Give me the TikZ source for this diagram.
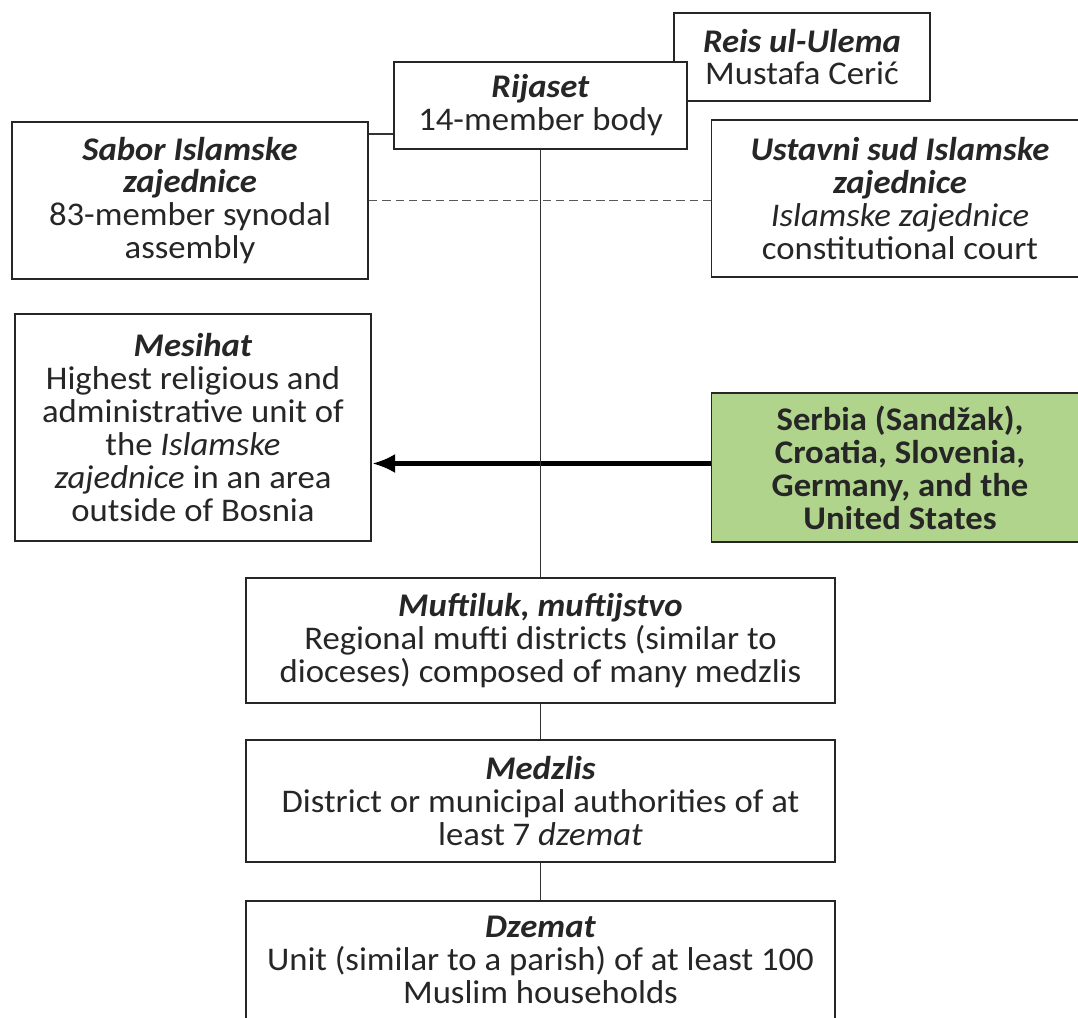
\documentclass[tikz,border=0pt]{standalone}
\usepackage{fontspec}
\setmainfont{Carlito}[FakeStretch=1.05]
\usepackage{tikz}
\usetikzlibrary{arrows.meta}

\definecolor{boxgreen}{HTML}{B0D48C}
\newcommand{\boxfont}{\fontsize{23.5}{23.4}\selectfont}
\newcommand{\boxtitle}[1]{\textbf{\textit{#1}}}

\begin{document}
\begin{tikzpicture}[x=0.025cm, y=-0.025cm,
    box/.style={draw=black!85, line width=1.3pt, fill=white, text=black!85,
      align=center, inner sep=0pt, font=\boxfont},
    greenbox/.style={box, fill=boxgreen, font=\boxfont\bfseries},
    link/.style={draw=black!80, line width=1.1pt},
    dashline/.style={draw=black!65, line width=1.3pt, dash pattern=on 6pt off 3.5pt},
    bigarrow/.style={line width=3.2pt, -{Latex[length=0.58cm,width=0.48cm]}}]
  \clip (0,0) rectangle (1078,1018);

  \node[box, minimum width=6.39cm, minimum height=2.2cm] at (802,57) (reis)
    {\boxtitle{Reis ul-Ulema}\\Mustafa Ceri\'c};
  \node[box, minimum width=7.325cm, minimum height=2.175cm] at (540.5,105.5) (rij)
    {\boxtitle{Rijaset}\\14-member body};

  \node[box, minimum width=8.9cm, minimum height=3.925cm] at (190,200.5) (sabor)
    {\boxtitle{Sabor Islamske}\\\boxtitle{zajednice}\\83-member synodal\\assembly};
  \node[box, minimum width=9.425cm, minimum height=3.925cm] at (900,198.5) (ustav)
    {\boxtitle{Ustavni sud Islamske}\\\boxtitle{zajednice}\\\textit{Islamske zajednice}\\constitutional court};

  \node[box, minimum width=8.9cm, minimum height=5.675cm] at (193,427.5) (mesihat)
    {\boxtitle{Mesihat}\\Highest religious and\\administrative unit of\\the \textit{Islamske}\\\textit{zajednice} in an area\\outside of Bosnia};
  \node[greenbox, minimum width=9.425cm, minimum height=3.725cm] at (900,467.5) (serbia)
    {Serbia (Sand\v{z}ak),\\Croatia, Slovenia,\\Germany, and the\\United States};

  \node[box, minimum width=14.725cm, minimum height=3.125cm] at (540.5,640.5) (muft)
    {\boxtitle{Muftiluk, muftijstvo}\\Regional mufti districts (similar to\\dioceses) composed of many medzlis};
  \node[box, minimum width=14.725cm, minimum height=3.05cm] at (540.5,801) (medz)
    {\boxtitle{Medzlis}\\District or municipal authorities of at\\least 7 \textit{dzemat}};
  \node[box, minimum width=14.725cm, minimum height=2.95cm] at (540.5,960) (dzem)
    {\boxtitle{Dzemat}\\Unit (similar to a parish) of at least 100\\Muslim households};

  % connectors
  \draw[bigarrow] ([yshift=0.1cm]serbia.west) -- ([yshift=0.1cm]serbia.west -| mesihat.east);
  \draw[link] (rij.south) -- (muft.north);
  \draw[link] (muft.south) -- (medz.north);
  \draw[link] (medz.south) -- (dzem.north);
  \draw[link] ([yshift=-0.325cm]sabor.north east) -- ([yshift=-0.325cm]sabor.north east -| rij.west);
  \draw[dashline] (sabor.east) -- (sabor.east -| ustav.west);
\end{tikzpicture}
\end{document}
